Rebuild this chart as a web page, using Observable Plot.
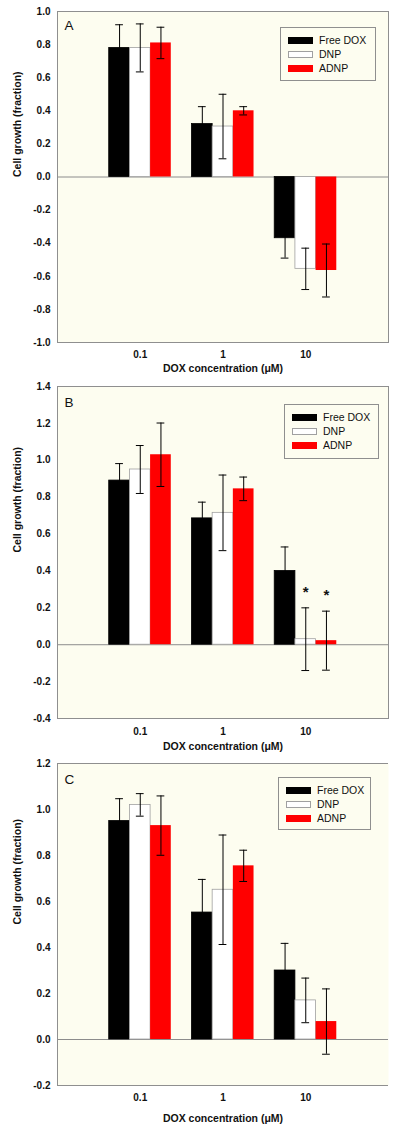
<!DOCTYPE html>
<html><head><meta charset="utf-8">
<script src="https://cdn.jsdelivr.net/npm/d3@7"></script>
<script src="https://cdn.jsdelivr.net/npm/@observablehq/plot@0.6"></script>
<style>
body{margin:0;background:#fff;font-family:"Liberation Sans",Arial,sans-serif}
.panel{position:relative;width:400px}
.panel svg{display:block}
.legend{position:absolute;border:1px solid #8f8f8f;background:#fdfdf0;box-sizing:border-box}
.legend .sw{position:absolute;box-sizing:border-box;width:25px;height:7px}
.legend .lb{position:absolute;font-size:10.5px;line-height:12px;color:#111}
</style></head><body><div id="chart"></div>
<script>
// categories
const concentrations = ["0.1", "1", "10"];
const seriesNames = ["Free DOX", "DNP", "ADNP"];
const xTitle = "DOX concentration (μM)";
const yTitle = "Cell growth (fraction)";

// Panel A values (mean, error)
const aFree = [0.78, 0.32, -0.37];
const aFreeErr = [0.14, 0.105, 0.12];
const aDNP = [0.78, 0.305, -0.555];
const aDNPErr = [0.145, 0.195, 0.125];
const aADNP = [0.81, 0.40, -0.565];
const aADNPErr = [0.095, 0.025, 0.16];
const aYTicks = [-1.0, -0.8, -0.6, -0.4, -0.2, 0.0, 0.2, 0.4, 0.6, 0.8, 1.0];

// Panel B values
const bFree = [0.89, 0.685, 0.40];
const bFreeErr = [0.092, 0.088, 0.13];
const bDNP = [0.95, 0.715, 0.03];
const bDNPErr = [0.13, 0.205, 0.17];
const bADNP = [1.03, 0.845, 0.022];
const bADNPErr = [0.172, 0.064, 0.16];
const bStarFree = ["", "", ""];
const bStarDNP = ["", "", "*"];
const bStarADNP = ["", "", "*"];
const bYTicks = [-0.4, -0.2, 0.0, 0.2, 0.4, 0.6, 0.8, 1.0, 1.2, 1.4];

// Panel C values
const cFree = [0.95, 0.552, 0.30];
const cFreeErr = [0.097, 0.144, 0.118];
const cDNP = [1.02, 0.651, 0.17];
const cDNPErr = [0.049, 0.238, 0.097];
const cADNP = [0.93, 0.755, 0.078];
const cADNPErr = [0.129, 0.068, 0.142];
const cYTicks = [-0.2, 0.0, 0.2, 0.4, 0.6, 0.8, 1.0, 1.2];

const noStars = ["", "", ""];

// styles
const style = {
  fill: ["#000000", "#ffffff", "#ff0000"],
  stroke: ["#000000", "#a0a0a0", "none"],
  cream: "#fdfdf0",
  frame: "#8f8f8f",
  err: "#000000",
  barWidth: 0.25,
  capHalf: 0.047
};

const panels = [
  {letter: "A", means: [aFree, aDNP, aADNP], errs: [aFreeErr, aDNPErr, aADNPErr], stars: [noStars, noStars, noStars],
   yTicks: aYTicks, height: 377, mt: 11, mb: 35, tickPad: 8, xTitleDy: 26.5, letterDy: 9, rightBorder: true,
   legend: {left: 280, top: 27, w: 96, h: 54}},
  {letter: "B", means: [bFree, bDNP, bADNP], errs: [bFreeErr, bDNPErr, bADNPErr], stars: [noStars, bStarDNP, bStarADNP],
   yTicks: bYTicks, height: 379, mt: 9, mb: 38, tickPad: 9, xTitleDy: 28.5, letterDy: 11, rightBorder: true,
   legend: {left: 284, top: 27, w: 95, h: 55}},
  {letter: "C", means: [cFree, cDNP, cADNP], errs: [cFreeErr, cDNPErr, cADNPErr], stars: [noStars, noStars, noStars],
   yTicks: cYTicks, height: 373, mt: 7, mb: 44, tickPad: 8.5, xTitleDy: 33, letterDy: 11, rightBorder: false,
   legend: {left: 278, top: 21, w: 93, h: 53}}
];

function rows(p) {
  const out = [];
  concentrations.forEach((c, g) => seriesNames.forEach((s, k) => {
    const m = p.means[k][g], e = p.errs[k][g];
    const xc = g + (k - 1) * style.barWidth;
    out.push({conc: c, series: s, k, xc, x1: xc - style.barWidth / 2, x2: xc + style.barWidth / 2,
      mean: m, lo: m - e, hi: m + e, star: p.stars[k][g]});
  }));
  return out;
}

const root = document.getElementById("chart");
panels.forEach(p => {
  const data = rows(p);
  const yDomain = [p.yTicks[0], p.yTicks[p.yTicks.length - 1]];
  const marks = [
    Plot.frame({fill: style.cream, stroke: null}),
    Plot.ruleY([0], {stroke: "#8c8c8c"}),
    ...seriesNames.map((s, k) => Plot.rect(data, {filter: d => d.k === k, x1: "x1", x2: "x2", y1: 0, y2: "mean",
      fill: style.fill[k], stroke: style.stroke[k], strokeWidth: 0.8})),
    Plot.ruleX(data, {x: "xc", y1: "lo", y2: "hi", stroke: style.err}),
    Plot.ruleY(data, {y: "lo", x1: d => d.xc - style.capHalf, x2: d => d.xc + style.capHalf, stroke: style.err}),
    Plot.ruleY(data, {y: "hi", x1: d => d.xc - style.capHalf, x2: d => d.xc + style.capHalf, stroke: style.err}),
    Plot.text(data.filter(d => d.star), {x: "xc", y: "hi", text: "star", dy: -11, lineAnchor: "bottom",
      fontSize: 15, fontWeight: "bold", fill: "#111"}),
    Plot.text([p.letter], {frameAnchor: "top-left", dx: 7, dy: p.letterDy, lineAnchor: "top", textAnchor: "start",
      fontSize: 13.5, fill: "#111"}),
    Plot.axisY({ticks: p.yTicks, tickFormat: d => d.toFixed(1), tickSize: 0, tickPadding: 7,
      fontSize: 10, fontWeight: "bold", fill: "#111", label: null}),
    Plot.axisX({ticks: [0, 1, 2], tickFormat: i => concentrations[i], tickSize: 0, tickPadding: p.tickPad,
      fontSize: 10, fontWeight: "bold", fill: "#111", label: null}),
    Plot.text([xTitle], {frameAnchor: "bottom", dy: p.xTitleDy, lineAnchor: "middle",
      fontSize: 10.5, fontWeight: "bold", fill: "#111"}),
    Plot.text([yTitle], {frameAnchor: "left", dx: -40, rotate: -90, lineAnchor: "middle",
      fontSize: 10.5, fontWeight: "bold", fill: "#111"})
  ];
  if (p.rightBorder) {
    marks.push(Plot.frame({stroke: style.frame}));
  } else {
    marks.push(Plot.ruleY(yDomain, {stroke: style.frame}));
    marks.push(Plot.ruleX([-1], {stroke: style.frame}));
  }
  const svg = Plot.plot({
    width: 400, height: p.height,
    marginLeft: 57, marginRight: 12, marginTop: p.mt, marginBottom: p.mb,
    style: {fontFamily: "'Liberation Sans', Arial, sans-serif", background: "transparent", color: "#111"},
    x: {domain: [-1, 3]},
    y: {domain: yDomain},
    marks
  });
  const panel = document.createElement("div");
  panel.className = "panel";
  panel.style.height = p.height + "px";
  panel.appendChild(svg);
  const lg = document.createElement("div");
  lg.className = "legend";
  Object.assign(lg.style, {left: p.legend.left + "px", top: p.legend.top + "px", width: p.legend.w + "px", height: p.legend.h + "px"});
  seriesNames.forEach((s, k) => {
    const cy = 13 + k * 14;
    const sw = document.createElement("div");
    sw.className = "sw";
    Object.assign(sw.style, {left: "7px", top: (cy - 4) + "px", background: style.fill[k],
      border: k === 1 ? "1px solid #a0a0a0" : "none"});
    const lb = document.createElement("div");
    lb.className = "lb";
    lb.textContent = s;
    Object.assign(lb.style, {left: "38px", top: (cy - 7) + "px"});
    lg.appendChild(sw); lg.appendChild(lb);
  });
  panel.appendChild(lg);
  root.appendChild(panel);
});
</script></body></html>
